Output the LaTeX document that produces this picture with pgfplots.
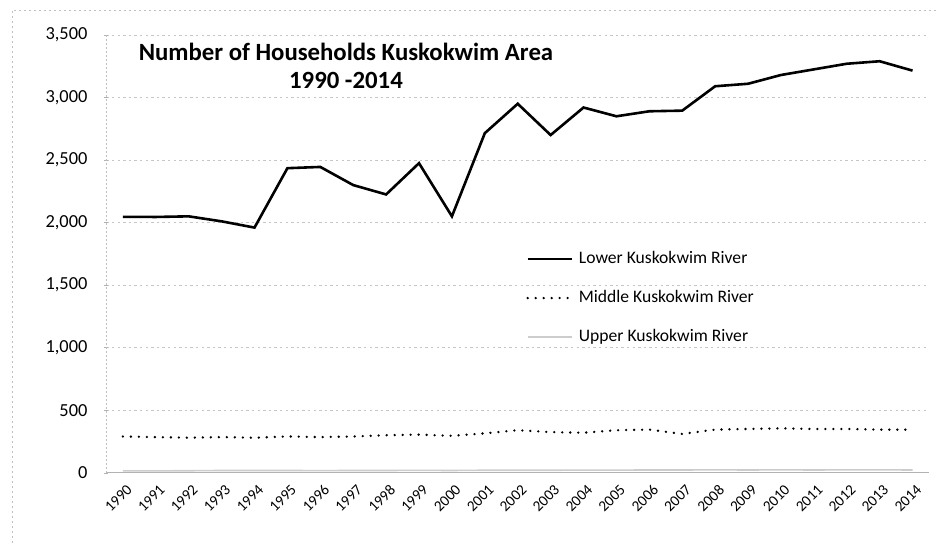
\documentclass[border=0pt]{standalone}
\usepackage{pgfplots}
\pgfplotsset{compat=1.18}
\usepackage{fontspec}
\setmainfont{Carlito}
\begin{document}
\begin{tikzpicture}
\begin{axis}[
  name=ax,
  scale only axis,
  width=411.5pt, height=219pt,
  xmin=1989.5, xmax=2014.5,
  ymin=0, ymax=3500,
  xtick={1990,...,2014},
  ytick={0,500,...,3500},
  scaled y ticks=false,
  /pgf/number format/assume math mode=true,
  yticklabel style={/pgf/number format/1000 sep={,}, font=\fontsize{9.2}{11}\selectfont, anchor=east, xshift=-5pt},
  xticklabel style={/pgf/number format/1000 sep=, font=\fontsize{7.6}{9}\selectfont, rotate=45, anchor=north east, inner sep=1pt, yshift=-3pt, xshift=-1pt},
  axis x line=bottom, axis y line=left,
  x axis line style={-, gray!60, line width=0.6pt},
  y axis line style={-, gray!50, dash pattern=on 1pt off 1pt},
  xtick style={draw=none},
  ytick style={gray!60},
  major tick length=2pt,
  ymajorgrids,
  grid style={gray!45, dash pattern=on 1.2pt off 1.6pt, line width=0.4pt},
  clip=false,
  legend image code/.code={\draw[#1] (0pt,0pt) -- (22pt,0pt);},
  legend style={at={(axis cs:2002.25,1790)}, anchor=north west, draw=none, fill=none,
    font=\fontsize{8.8}{11}\selectfont, row sep=10pt, inner sep=0pt,
    nodes={inner sep=1pt, anchor=west}},
  legend cell align=left,
]
\addplot[black, line width=1.3pt] table {
x y
1990 2046
1991 2045
1992 2050
1993 2010
1994 1960
1995 2435
1996 2445
1997 2300
1998 2225
1999 2475
2000 2050
2001 2715
2002 2950
2003 2700
2004 2920
2005 2850
2006 2890
2007 2895
2008 3090
2009 3110
2010 3180
2011 3225
2012 3270
2013 3290
2014 3215
};
\addlegendentry{\hspace{2pt}Lower Kuskokwim River}
\addplot[black, line width=1.3pt, line cap=round, dash pattern=on 0pt off 4pt] table {
x y
1990 290
1991 285
1992 280
1993 285
1994 280
1995 290
1996 285
1997 290
1998 300
1999 305
2000 295
2001 315
2002 340
2003 325
2004 320
2005 340
2006 345
2007 310
2008 345
2009 350
2010 355
2011 350
2012 350
2013 345
2014 345
};
\addlegendentry{\hspace{2pt}Middle Kuskokwim River}
\addplot[gray!40, line width=0.8pt] table {
x y
1990 15
1991 15
1992 16
1993 18
1994 18
1995 18
1996 17
1997 18
1998 18
1999 19
2000 18
2001 20
2002 20
2003 20
2004 21
2005 21
2006 22
2007 22
2008 23
2009 22
2010 23
2011 22
2012 23
2013 23
2014 22
};
\addlegendentry{\hspace{2pt}Upper Kuskokwim River}
\node[font=\fontsize{12.4}{14}\selectfont\bfseries, align=center] at (axis cs:1996.78,3253)
  {Number of Households Kuskokwim Area\\1990 -2014};
\end{axis}
\path[use as bounding box] ([shift={(-53.25pt,-35.5pt)}]ax.south west) rectangle ([shift={(3.5pt,17.5pt)}]ax.north east);
\draw[gray!50, dash pattern=on 1pt off 1.5pt] ([shift={(-47.25pt,-40pt)}]ax.south west) -- ([shift={(-47.25pt,12.5pt)}]ax.north west) -- ([shift={(6pt,12.5pt)}]ax.north east);
\end{tikzpicture}
\end{document}
